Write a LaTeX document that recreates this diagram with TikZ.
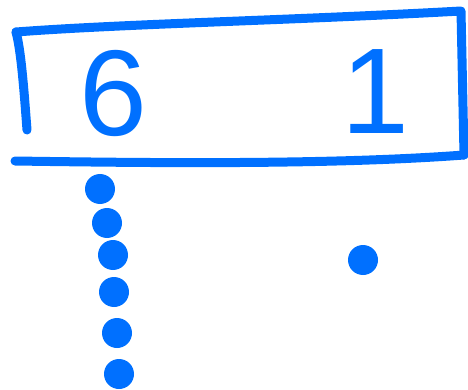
\documentclass[tikz,border=0pt]{standalone}
\usepackage{fontspec}
\setmainfont{Liberation Sans}
\definecolor{inkblue}{RGB}{0,112,255}

\begin{document}
\begin{tikzpicture}[x=1pt,y=-1pt,
  pen/.style={draw=inkblue,line width=9pt,line cap=round,line join=round},
  blob/.style={circle,fill=inkblue,inner sep=0pt,minimum size=30pt},
  digit/.style={text=inkblue,inner sep=0pt,font=\fontsize{122}{122}\selectfont}]
\useasboundingbox (0,0) rectangle (468,390);
% frame corners
\coordinate (TL) at (16,32); \coordinate (TR) at (461,11);
\coordinate (BR) at (464,155); \coordinate (BL) at (15,161);
\coordinate (LE) at (27,130);
\draw[pen] (LE) .. controls (24,90) and (21,50) .. (TL);
\draw[pen] (TL) .. controls (120,24) and (300,20) .. (TR) -- (BR);
\draw[pen] (BR) .. controls (330,165) and (150,163) .. (BL);
% digits
\node[digit] (six) at (113,94) {6};
\node[digit] (one) at (375,92) {1};
% dots
\foreach \i/\p in {1/{(100,189)},2/{(107,223)},3/{(113,255)},4/{(114,292)},5/{(117,333)},6/{(119,374)}}
  \node[blob] (dot\i) at \p {};
\node[blob] (dotR) at (363,260) {};
\end{tikzpicture}
\end{document}
